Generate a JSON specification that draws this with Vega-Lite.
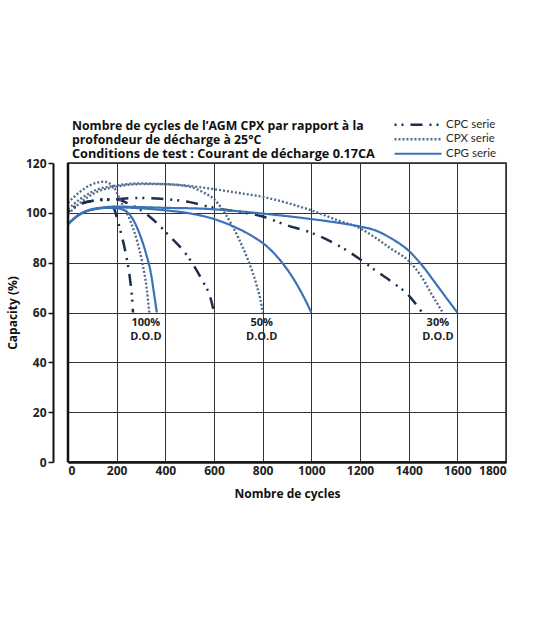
{
  "$schema": "https://vega.github.io/schema/vega-lite/v6.json",
  "width": 438,
  "height": 299,
  "autosize": {"type": "none"},
  "padding": {"left": 68, "top": 163, "right": 34, "bottom": 155},
  "background": "white",
  "title": {
    "text": ["Nombre de cycles de l’AGM CPX par rapport à la", "profondeur de décharge à 25°C"],
    "subtitle": "Conditions de test : Courant de décharge 0.17CA",
    "anchor": "start",
    "frame": "group",
    "dx": 4,
    "offset": -43,
    "font": "Open Sans",
    "fontSize": 12.3,
    "fontWeight": "bold",
    "color": "#111",
    "lineHeight": 14,
    "subtitleFont": "Open Sans",
    "subtitleFontSize": 12.7,
    "subtitleFontWeight": "bold",
    "subtitleColor": "#111",
    "subtitlePadding": 2
  },
  "datasets": {
    "curves": [
      {"serie": "CPC serie", "curve": "CPC100", "x": 0, "y": 100.5},
      {"serie": "CPC serie", "curve": "CPC100", "x": 50, "y": 103.5},
      {"serie": "CPC serie", "curve": "CPC100", "x": 100, "y": 104.8},
      {"serie": "CPC serie", "curve": "CPC100", "x": 150, "y": 105.5},
      {"serie": "CPC serie", "curve": "CPC100", "x": 180, "y": 104},
      {"serie": "CPC serie", "curve": "CPC100", "x": 196, "y": 99.7},
      {"serie": "CPC serie", "curve": "CPC100", "x": 217, "y": 92.1},
      {"serie": "CPC serie", "curve": "CPC100", "x": 237, "y": 83.9},
      {"serie": "CPC serie", "curve": "CPC100", "x": 254, "y": 74},
      {"serie": "CPC serie", "curve": "CPC100", "x": 263, "y": 66},
      {"serie": "CPC serie", "curve": "CPC100", "x": 267, "y": 60},

      {"serie": "CPC serie", "curve": "CPC50", "x": 0, "y": 100.5},
      {"serie": "CPC serie", "curve": "CPC50", "x": 50, "y": 103.5},
      {"serie": "CPC serie", "curve": "CPC50", "x": 100, "y": 104.8},
      {"serie": "CPC serie", "curve": "CPC50", "x": 200, "y": 105.5},
      {"serie": "CPC serie", "curve": "CPC50", "x": 244, "y": 103.9},
      {"serie": "CPC serie", "curve": "CPC50", "x": 320, "y": 99.7},
      {"serie": "CPC serie", "curve": "CPC50", "x": 361, "y": 96.3},
      {"serie": "CPC serie", "curve": "CPC50", "x": 410, "y": 91.4},
      {"serie": "CPC serie", "curve": "CPC50", "x": 492, "y": 82.5},
      {"serie": "CPC serie", "curve": "CPC50", "x": 548, "y": 73.5},
      {"serie": "CPC serie", "curve": "CPC50", "x": 589, "y": 64.6},
      {"serie": "CPC serie", "curve": "CPC50", "x": 600, "y": 60},

      {"serie": "CPC serie", "curve": "CPC30", "x": 0, "y": 100.5},
      {"serie": "CPC serie", "curve": "CPC30", "x": 50, "y": 103.5},
      {"serie": "CPC serie", "curve": "CPC30", "x": 100, "y": 104.8},
      {"serie": "CPC serie", "curve": "CPC30", "x": 200, "y": 105.5},
      {"serie": "CPC serie", "curve": "CPC30", "x": 300, "y": 106},
      {"serie": "CPC serie", "curve": "CPC30", "x": 400, "y": 105.5},
      {"serie": "CPC serie", "curve": "CPC30", "x": 500, "y": 104.3},
      {"serie": "CPC serie", "curve": "CPC30", "x": 600, "y": 102},
      {"serie": "CPC serie", "curve": "CPC30", "x": 700, "y": 100.5},
      {"serie": "CPC serie", "curve": "CPC30", "x": 800, "y": 98.5},
      {"serie": "CPC serie", "curve": "CPC30", "x": 900, "y": 95},
      {"serie": "CPC serie", "curve": "CPC30", "x": 1000, "y": 92},
      {"serie": "CPC serie", "curve": "CPC30", "x": 1100, "y": 87.5},
      {"serie": "CPC serie", "curve": "CPC30", "x": 1200, "y": 81.4},
      {"serie": "CPC serie", "curve": "CPC30", "x": 1259, "y": 77.2},
      {"serie": "CPC serie", "curve": "CPC30", "x": 1329, "y": 72.4},
      {"serie": "CPC serie", "curve": "CPC30", "x": 1400, "y": 66.9},
      {"serie": "CPC serie", "curve": "CPC30", "x": 1455, "y": 60},

      {"serie": "CPX serie", "curve": "CPX100", "x": 0, "y": 104},
      {"serie": "CPX serie", "curve": "CPX100", "x": 50, "y": 108.5},
      {"serie": "CPX serie", "curve": "CPX100", "x": 100, "y": 111.5},
      {"serie": "CPX serie", "curve": "CPX100", "x": 150, "y": 112.5},
      {"serie": "CPX serie", "curve": "CPX100", "x": 190, "y": 110},
      {"serie": "CPX serie", "curve": "CPX100", "x": 217, "y": 104.6},
      {"serie": "CPX serie", "curve": "CPX100", "x": 258, "y": 96.3},
      {"serie": "CPX serie", "curve": "CPX100", "x": 286, "y": 88},
      {"serie": "CPX serie", "curve": "CPX100", "x": 306, "y": 79.7},
      {"serie": "CPX serie", "curve": "CPX100", "x": 323, "y": 70},
      {"serie": "CPX serie", "curve": "CPX100", "x": 334, "y": 60},

      {"serie": "CPX serie", "curve": "CPX50", "x": 0, "y": 101.5},
      {"serie": "CPX serie", "curve": "CPX50", "x": 50, "y": 105.5},
      {"serie": "CPX serie", "curve": "CPX50", "x": 100, "y": 108.5},
      {"serie": "CPX serie", "curve": "CPX50", "x": 200, "y": 111},
      {"serie": "CPX serie", "curve": "CPX50", "x": 300, "y": 111.8},
      {"serie": "CPX serie", "curve": "CPX50", "x": 400, "y": 111.5},
      {"serie": "CPX serie", "curve": "CPX50", "x": 500, "y": 110.5},
      {"serie": "CPX serie", "curve": "CPX50", "x": 560, "y": 108},
      {"serie": "CPX serie", "curve": "CPX50", "x": 600, "y": 105.5},
      {"serie": "CPX serie", "curve": "CPX50", "x": 650, "y": 99},
      {"serie": "CPX serie", "curve": "CPX50", "x": 700, "y": 90},
      {"serie": "CPX serie", "curve": "CPX50", "x": 740, "y": 81},
      {"serie": "CPX serie", "curve": "CPX50", "x": 775, "y": 71},
      {"serie": "CPX serie", "curve": "CPX50", "x": 795, "y": 63},
      {"serie": "CPX serie", "curve": "CPX50", "x": 800, "y": 60},

      {"serie": "CPX serie", "curve": "CPX30", "x": 0, "y": 99.5},
      {"serie": "CPX serie", "curve": "CPX30", "x": 50, "y": 104},
      {"serie": "CPX serie", "curve": "CPX30", "x": 100, "y": 107.5},
      {"serie": "CPX serie", "curve": "CPX30", "x": 200, "y": 110.5},
      {"serie": "CPX serie", "curve": "CPX30", "x": 300, "y": 111.5},
      {"serie": "CPX serie", "curve": "CPX30", "x": 400, "y": 111.5},
      {"serie": "CPX serie", "curve": "CPX30", "x": 500, "y": 110.8},
      {"serie": "CPX serie", "curve": "CPX30", "x": 600, "y": 109.5},
      {"serie": "CPX serie", "curve": "CPX30", "x": 700, "y": 108},
      {"serie": "CPX serie", "curve": "CPX30", "x": 800, "y": 106.4},
      {"serie": "CPX serie", "curve": "CPX30", "x": 900, "y": 104},
      {"serie": "CPX serie", "curve": "CPX30", "x": 1000, "y": 101},
      {"serie": "CPX serie", "curve": "CPX30", "x": 1100, "y": 97.3},
      {"serie": "CPX serie", "curve": "CPX30", "x": 1200, "y": 93.8},
      {"serie": "CPX serie", "curve": "CPX30", "x": 1259, "y": 90.3},
      {"serie": "CPX serie", "curve": "CPX30", "x": 1329, "y": 85.5},
      {"serie": "CPX serie", "curve": "CPX30", "x": 1400, "y": 80.7},
      {"serie": "CPX serie", "curve": "CPX30", "x": 1452, "y": 74.5},
      {"serie": "CPX serie", "curve": "CPX30", "x": 1493, "y": 67.6},
      {"serie": "CPX serie", "curve": "CPX30", "x": 1540, "y": 60},

      {"serie": "CPG serie", "curve": "CPG100", "x": 0, "y": 95.5},
      {"serie": "CPG serie", "curve": "CPG100", "x": 50, "y": 99.5},
      {"serie": "CPG serie", "curve": "CPG100", "x": 100, "y": 101.3},
      {"serie": "CPG serie", "curve": "CPG100", "x": 150, "y": 102},
      {"serie": "CPG serie", "curve": "CPG100", "x": 200, "y": 101.8},
      {"serie": "CPG serie", "curve": "CPG100", "x": 230, "y": 101.1},
      {"serie": "CPG serie", "curve": "CPG100", "x": 265, "y": 97.7},
      {"serie": "CPG serie", "curve": "CPG100", "x": 292, "y": 92.1},
      {"serie": "CPG serie", "curve": "CPG100", "x": 320, "y": 83.9},
      {"serie": "CPG serie", "curve": "CPG100", "x": 341, "y": 75.6},
      {"serie": "CPG serie", "curve": "CPG100", "x": 354, "y": 67.3},
      {"serie": "CPG serie", "curve": "CPG100", "x": 365, "y": 60},

      {"serie": "CPG serie", "curve": "CPG50", "x": 0, "y": 95.5},
      {"serie": "CPG serie", "curve": "CPG50", "x": 50, "y": 99.5},
      {"serie": "CPG serie", "curve": "CPG50", "x": 100, "y": 101.3},
      {"serie": "CPG serie", "curve": "CPG50", "x": 200, "y": 102.2},
      {"serie": "CPG serie", "curve": "CPG50", "x": 300, "y": 101.8},
      {"serie": "CPG serie", "curve": "CPG50", "x": 400, "y": 101},
      {"serie": "CPG serie", "curve": "CPG50", "x": 500, "y": 99.8},
      {"serie": "CPG serie", "curve": "CPG50", "x": 600, "y": 97.5},
      {"serie": "CPG serie", "curve": "CPG50", "x": 683, "y": 94.4},
      {"serie": "CPG serie", "curve": "CPG50", "x": 751, "y": 91},
      {"serie": "CPG serie", "curve": "CPG50", "x": 820, "y": 86.3},
      {"serie": "CPG serie", "curve": "CPG50", "x": 880, "y": 80},
      {"serie": "CPG serie", "curve": "CPG50", "x": 930, "y": 73},
      {"serie": "CPG serie", "curve": "CPG50", "x": 970, "y": 66},
      {"serie": "CPG serie", "curve": "CPG50", "x": 1000, "y": 60},

      {"serie": "CPG serie", "curve": "CPG30", "x": 0, "y": 95.5},
      {"serie": "CPG serie", "curve": "CPG30", "x": 50, "y": 99.5},
      {"serie": "CPG serie", "curve": "CPG30", "x": 100, "y": 101.5},
      {"serie": "CPG serie", "curve": "CPG30", "x": 200, "y": 102.5},
      {"serie": "CPG serie", "curve": "CPG30", "x": 300, "y": 102.3},
      {"serie": "CPG serie", "curve": "CPG30", "x": 400, "y": 102},
      {"serie": "CPG serie", "curve": "CPG30", "x": 545, "y": 101.7},
      {"serie": "CPG serie", "curve": "CPG30", "x": 800, "y": 99.7},
      {"serie": "CPG serie", "curve": "CPG30", "x": 1000, "y": 97.5},
      {"serie": "CPG serie", "curve": "CPG30", "x": 1118, "y": 95.9},
      {"serie": "CPG serie", "curve": "CPG30", "x": 1200, "y": 94.5},
      {"serie": "CPG serie", "curve": "CPG30", "x": 1259, "y": 93.1},
      {"serie": "CPG serie", "curve": "CPG30", "x": 1329, "y": 89.7},
      {"serie": "CPG serie", "curve": "CPG30", "x": 1400, "y": 84.8},
      {"serie": "CPG serie", "curve": "CPG30", "x": 1452, "y": 79.3},
      {"serie": "CPG serie", "curve": "CPG30", "x": 1507, "y": 72.2},
      {"serie": "CPG serie", "curve": "CPG30", "x": 1563, "y": 64.8},
      {"serie": "CPG serie", "curve": "CPG30", "x": 1600, "y": 60}
    ],
    "labels": [
      {"x": 320, "y": 58, "label": "100%\nD.O.D"},
      {"x": 796, "y": 58, "label": "50%\nD.O.D"},
      {"x": 1520, "y": 58, "label": "30%\nD.O.D"}
    ],
    "border": [{"x": 0}]
  },
  "layer": [
    {
      "data": {"name": "curves"},
      "mark": {"type": "line", "interpolate": "monotone", "strokeCap": "butt"},
      "encoding": {
        "x": {
          "field": "x",
          "type": "quantitative",
          "scale": {"domain": [0, 1800], "nice": false},
          "axis": {
            "values": [0, 200, 400, 600, 800, 1000, 1200, 1400, 1600, 1800],
            "format": "d",
            "title": "Nombre de cycles",
            "ticks": false,
            "domainWidth": 2.5,
            "labelPadding": 3,
            "labelDx": 4,
            "titlePadding": 12
          }
        },
        "y": {
          "field": "y",
          "type": "quantitative",
          "scale": {"domain": [0, 120], "nice": false},
          "axis": {
            "values": [0, 20, 40, 60, 80, 100, 120],
            "title": "Capacity (%)",
            "offset": 15,
            "tickSize": 5,
            "tickWidth": 1.5,
            "domainWidth": 2,
            "labelPadding": 2,
            "titlePadding": 6
          }
        },
        "detail": {"field": "curve"},
        "color": {
          "field": "serie",
          "type": "nominal",
          "scale": {
            "domain": ["CPC serie", "CPX serie", "CPG serie"],
            "range": ["#1e2c4d", "#52698f", "#3b72b9"]
          },
          "legend": {
            "title": null,
            "orient": "none",
            "legendX": 325,
            "legendY": -45,
            "symbolType": "stroke",
            "symbolSize": 2209,
            "clipHeight": 13.5,
            "rowPadding": 0.5,
            "labelOffset": 3,
            "labelFont": "Lato",
            "labelFontSize": 11.5,
            "labelColor": "#2a2a2a"
          }
        },
        "strokeDash": {
          "field": "serie",
          "type": "nominal",
          "scale": {
            "domain": ["CPC serie", "CPX serie", "CPG serie"],
            "range": [[2, 5, 2, 7, 12, 7], [2, 2], [1, 0]]
          }
        },
        "strokeWidth": {
          "field": "serie",
          "type": "nominal",
          "scale": {
            "domain": ["CPC serie", "CPX serie", "CPG serie"],
            "range": [2.5, 2.2, 3]
          }
        }
      }
    },
    {
      "data": {"name": "labels"},
      "mark": {
        "type": "text",
        "lineBreak": "\n",
        "baseline": "top",
        "align": "center",
        "font": "Open Sans",
        "fontSize": 11,
        "fontWeight": "bold",
        "color": "#222",
        "lineHeight": 14
      },
      "encoding": {
        "x": {"field": "x", "type": "quantitative"},
        "y": {"field": "y", "type": "quantitative"},
        "text": {"field": "label"}
      }
    },
    {
      "data": {"name": "border"},
      "mark": {"type": "rule", "color": "#111", "strokeWidth": 2.5},
      "encoding": {
        "x": {"field": "x", "type": "quantitative"}
      }
    }
  ],
  "config": {
    "view": {"stroke": "#222", "strokeWidth": 1.5},
    "axis": {
      "grid": true,
      "gridColor": "#333",
      "gridWidth": 1,
      "gridOpacity": 1,
      "domainColor": "#111",
      "tickColor": "#111",
      "labelFont": "Open Sans",
      "labelFontSize": 12,
      "labelFontWeight": "bold",
      "labelColor": "#222",
      "titleFont": "Open Sans",
      "titleFontSize": 12,
      "titleFontWeight": "bold",
      "titleColor": "#111"
    }
  }
}
